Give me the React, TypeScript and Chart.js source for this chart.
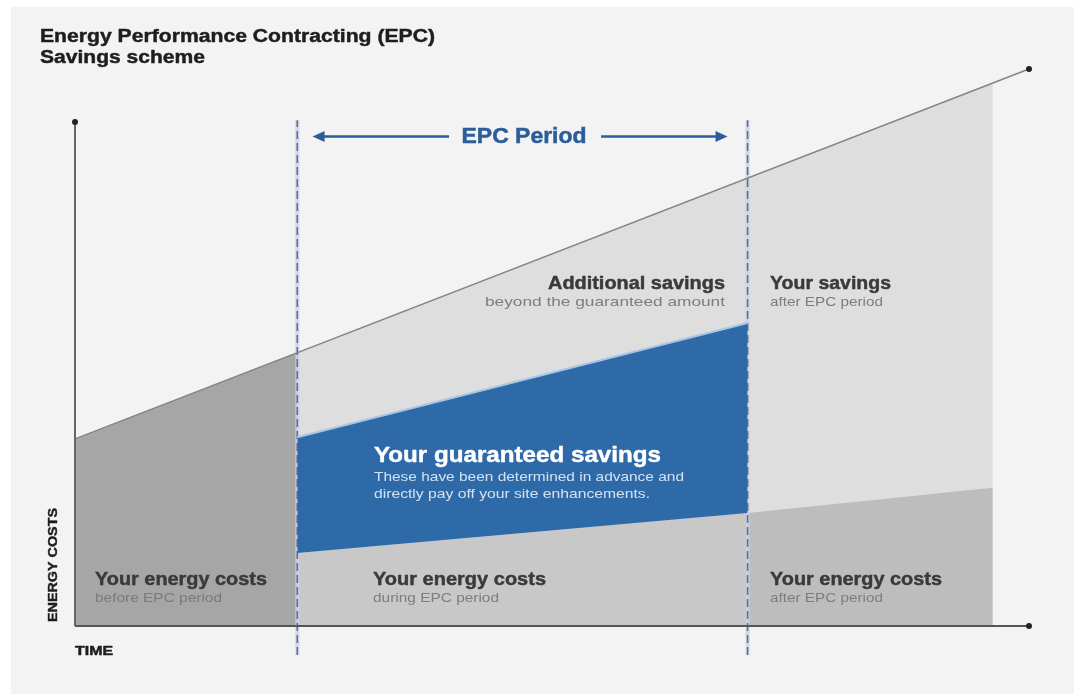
import React, { useEffect, useRef } from "react";
import { Chart, registerables } from "chart.js";

Chart.register(...registerables);

const W = 1074;
const H = 694;

// Time axis runs 0..100, cost axis runs 0..100 (arbitrary units)
const baselineX = [0, 100];
const baselineY = [33.6, 100];
const beforeX = [0, 23.3];
const beforeY = [33.6, 49.1];
const potentialX = [23.3, 96.2];
const potentialY = [49.1, 97.5];
const guaranteedX = [23.3, 70.5];
const guaranteedY = [33.9, 54.4];
const costsDuringX = [23.3, 70.5];
const costsDuringY = [13.1, 20.3];
const costsAfterX = [70.5, 96.2];
const costsAfterY = [20.3, 24.8];
const epcBounds = [23.3, 70.5];
const costAxisTop = 90.5;
const periodLineSpan = [-5.2, 90.8];
const periodArrow = { y: 87.9, from: 24.9, to: 68.4 };

const pts = (xs: number[], ys: number[]) => xs.map((x, i) => ({ x, y: ys[i] }));

type Lbl = {
  t: string; x: number; y: number; size: number; weight: string; color: string; width: number; align?: string;
};

const DARK = "#3a3a3a";
const SUB = "#7d7d7d";

const labels: Lbl[] = [
  { t: "Energy Performance Contracting (EPC)", x: 40, y: 42, size: 18, weight: "bold", color: "#1e1e1e", width: 395 },
  { t: "Savings scheme", x: 40, y: 63, size: 18, weight: "bold", color: "#1e1e1e", width: 165 },
  { t: "Additional savings", x: 725, y: 289, size: 18, weight: "bold", color: DARK, width: 177, align: "right" },
  { t: "beyond the guaranteed amount", x: 725, y: 306, size: 13, weight: "normal", color: SUB, width: 240, align: "right" },
  { t: "Your savings", x: 770, y: 289, size: 18, weight: "bold", color: DARK, width: 121 },
  { t: "after EPC period", x: 770, y: 306, size: 13, weight: "normal", color: SUB, width: 113 },
  { t: "Your guaranteed savings", x: 374, y: 462, size: 22, weight: "bold", color: "#ffffff", width: 287 },
  { t: "These have been determined in advance and", x: 374, y: 481, size: 13, weight: "normal", color: "#d3e2f2", width: 310 },
  { t: "directly pay off your site enhancements.", x: 374, y: 498, size: 13, weight: "normal", color: "#d3e2f2", width: 276 },
  { t: "Your energy costs", x: 95, y: 585, size: 18, weight: "bold", color: DARK, width: 172 },
  { t: "before EPC period", x: 95, y: 602, size: 13, weight: "normal", color: "#7a7a7a", width: 127 },
  { t: "Your energy costs", x: 373, y: 585, size: 18, weight: "bold", color: DARK, width: 173 },
  { t: "during EPC period", x: 373, y: 602, size: 13, weight: "normal", color: SUB, width: 126 },
  { t: "Your energy costs", x: 770, y: 585, size: 18, weight: "bold", color: DARK, width: 172 },
  { t: "after EPC period", x: 770, y: 602, size: 13, weight: "normal", color: SUB, width: 113 },
  { t: "TIME", x: 75, y: 655, size: 12, weight: "bold", color: "#1e1e1e", width: 38 },
];

const FONT = '"Liberation Sans", Arial, sans-serif';

function drawLabel(ctx: CanvasRenderingContext2D, l: Lbl) {
  ctx.save();
  ctx.font = `${l.weight} ${l.size}px ${FONT}`;
  ctx.fillStyle = l.color;
  ctx.strokeStyle = l.color;
  ctx.lineWidth = 0.45;
  ctx.lineJoin = "round";
  ctx.textAlign = "left";
  ctx.textBaseline = "alphabetic";
  const w = ctx.measureText(l.t).width;
  const sx = l.width / w;
  let left = l.x;
  if (l.align === "right") left = l.x - l.width;
  if (l.align === "center") left = l.x - l.width / 2;
  ctx.translate(left, l.y);
  ctx.scale(sx, 1);
  ctx.fillText(l.t, 0, 0);
  if (l.weight === "bold") ctx.strokeText(l.t, 0, 0);
  ctx.restore();
}

const bgPlugin = {
  id: "bg",
  beforeDraw(chart: any) {
    const ctx = chart.ctx as CanvasRenderingContext2D;
    ctx.save();
    ctx.fillStyle = "#ffffff";
    ctx.fillRect(0, 0, W, H);
    ctx.fillStyle = "#f3f3f3";
    ctx.fillRect(11, 7, W - 11, H - 7);
    ctx.restore();
  },
};

const textPlugin = {
  id: "texts",
  afterDraw(chart: any) {
    const ctx = chart.ctx as CanvasRenderingContext2D;
    const xs = chart.scales.x;
    const ys = chart.scales.y;
    labels.forEach((l) => drawLabel(ctx, l));

    // vertical axis title
    ctx.save();
    ctx.font = `bold 12px ${FONT}`;
    ctx.fillStyle = "#1e1e1e";
    ctx.strokeStyle = "#1e1e1e";
    ctx.lineWidth = 0.4;
    const t = "ENERGY COSTS";
    const w = ctx.measureText(t).width;
    ctx.translate(57, 565);
    ctx.rotate(-Math.PI / 2);
    ctx.scale(114 / w, 1);
    ctx.textAlign = "center";
    ctx.fillText(t, 0, 0);
    ctx.strokeText(t, 0, 0);
    ctx.restore();

    // EPC period arrow
    const ay = ys.getPixelForValue(periodArrow.y);
    const x1 = xs.getPixelForValue(periodArrow.from);
    const x2 = xs.getPixelForValue(periodArrow.to);
    const blue = "#2b5d9a";
    ctx.save();
    ctx.font = `bold 22px ${FONT}`;
    const pt = "EPC Period";
    const pw = ctx.measureText(pt).width;
    const cx = (x1 + x2) / 2 + 4;
    ctx.fillStyle = blue;
    ctx.strokeStyle = blue;
    ctx.lineWidth = 0.5;
    ctx.translate(cx - 62.5, ay + 7);
    ctx.scale(125 / pw, 1);
    ctx.fillText(pt, 0, 0);
    ctx.strokeText(pt, 0, 0);
    ctx.restore();

    ctx.save();
    ctx.strokeStyle = blue;
    ctx.fillStyle = blue;
    ctx.lineWidth = 2.5;
    ctx.beginPath();
    ctx.moveTo(x1 + 6, ay);
    ctx.lineTo(cx - 75, ay);
    ctx.moveTo(cx + 77, ay);
    ctx.lineTo(x2 - 6, ay);
    ctx.stroke();
    ctx.beginPath();
    ctx.moveTo(x1, ay);
    ctx.lineTo(x1 + 12, ay - 5.5);
    ctx.lineTo(x1 + 12, ay + 5.5);
    ctx.closePath();
    ctx.fill();
    ctx.beginPath();
    ctx.moveTo(x2, ay);
    ctx.lineTo(x2 - 12, ay - 5.5);
    ctx.lineTo(x2 - 12, ay + 5.5);
    ctx.closePath();
    ctx.fill();
    ctx.restore();
  },
};

export default function App() {
  const ref = useRef<HTMLCanvasElement | null>(null);

  useEffect(() => {
    if (!ref.current) return;
    const base = { pointRadius: 0, borderWidth: 0, clip: false as any, tension: 0 };
    const datasets: any[] = [
      { ...base, label: "Potential", data: pts(potentialX, potentialY), backgroundColor: "#dedede", fill: "origin", order: 10 },
      { ...base, label: "Before", data: pts(beforeX, beforeY), backgroundColor: "#a6a6a6", fill: "origin", order: 9 },
      { ...base, label: "Costs during", data: pts(costsDuringX, costsDuringY), backgroundColor: "#c8c8c8", fill: "origin", order: 8 },
      { ...base, label: "Costs after", data: pts(costsAfterX, costsAfterY), backgroundColor: "#bdbdbd", fill: "origin", order: 8 },
    ];
    epcBounds.forEach((b) => {
      const d = [
        { x: b, y: periodLineSpan[0] },
        { x: b, y: periodLineSpan[1] },
      ];
      datasets.push({ ...base, label: "halo", data: d, borderColor: "rgba(200,208,235,0.8)", borderWidth: 4, fill: false, order: 7 });
      datasets.push({ ...base, label: "bound", data: d, borderColor: "#66707f", borderWidth: 1.6, borderDash: [8, 4], fill: false, order: 6 });
    });
    const gIdx = datasets.length;
    datasets.push({
      ...base, label: "Guaranteed", data: pts(guaranteedX, guaranteedY), backgroundColor: "#2e69a8",
      borderColor: "#a7c6e6", borderWidth: 2, fill: gIdx + 1, order: 5,
    });
    datasets.push({ ...base, label: "Guaranteed base", data: pts(costsDuringX, costsDuringY), fill: false, order: 5 });
    datasets.push({
      ...base, label: "Baseline", data: pts(baselineX, baselineY), borderColor: "#858585", borderWidth: 1.5, fill: false,
      pointRadius: [0, 3], pointBackgroundColor: "#222", pointBorderWidth: 0, order: 3,
    });
    datasets.push({
      ...base, label: "x axis", data: [{ x: 0, y: 0 }, { x: 100, y: 0 }], borderColor: "#555555", borderWidth: 2, fill: false,
      pointRadius: [0, 3], pointBackgroundColor: "#222", pointBorderWidth: 0, order: 2,
    });
    datasets.push({
      ...base, label: "y axis", data: [{ x: 0, y: 0 }, { x: 0, y: costAxisTop }], borderColor: "#666666", borderWidth: 2, fill: false,
      pointRadius: [0, 3], pointBackgroundColor: "#222", pointBorderWidth: 0, order: 2,
    });

    const chart = new Chart(ref.current, {
      type: "line",
      data: { datasets },
      options: {
        animation: false,
        responsive: false,
        devicePixelRatio: 1,
        events: [],
        layout: { padding: { left: 75, right: 45, top: 69, bottom: 68 } },
        plugins: { legend: { display: false }, tooltip: { enabled: false }, title: { display: false } },
        scales: {
          x: { type: "linear", min: 0, max: 100, display: false },
          y: { type: "linear", min: 0, max: 100, display: false },
        },
      } as any,
      plugins: [bgPlugin, textPlugin],
    });
    return () => chart.destroy();
  }, []);

  return (
    <div style={{ position: "fixed", left: 0, top: 0, width: W, height: H }}>
      <canvas ref={ref} width={W} height={H} style={{ width: W, height: H, display: "block" }} />
    </div>
  );
}
